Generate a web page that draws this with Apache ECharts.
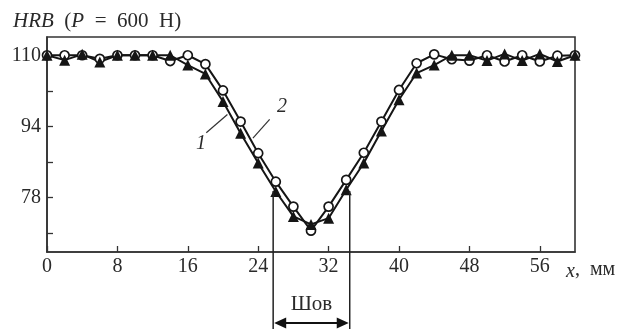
<!DOCTYPE html>
<html>
<head>
<meta charset="utf-8">
<script src="https://cdn.jsdelivr.net/npm/echarts@6/dist/echarts.min.js"></script>
<style>html,body{margin:0;padding:0;background:#fff}#c{width:622px;height:329px}</style>
</head>
<body>
<div id="c"></div>
<script>
// x positions, mm
const xs = [0,2,4,6,8,10,12,14,16,18,20,22,24,26,28,30,32,34,36,38,40,42,44,46,48,50,52,54,56,58,60];
// curve 1 (filled triangles)
const hrb1 = [110,108.9,110.2,108.5,110,110,110,110,107.8,105.8,99.6,92.5,85.8,79.4,73.8,72,73.4,79.8,85.8,93,100,106,107.8,110,110,108.8,110.3,108.8,110.3,108.6,110];
// curve 2 (open circles)
const hrb2 = [110,110,110,109.2,110,110,110,108.7,110,108,102.1,95.1,88,81.6,76,70.6,76,82,88.1,95.1,102.2,108.2,110.2,109.1,108.8,110,108.6,110,108.6,109.9,110];
const xTicks = [0,8,16,24,32,40,48,56];
const yTicks = [70,78,86,94,102,110];
const yLabels = [78,94,110];
// weld zone boundaries (mm) and the level where the markers start
const weld = [25.7, 34.4];
const weldTop = 79.5;
// curve labels with leader lines (data coordinates)
const curveLabels = [
  {text:'1', pos:[17.5,90.2], from:[18.1,92.6], to:[20.5,96.7]},
  {text:'2', pos:[26.7,98.4], from:[25.3,95.6], to:[23.4,91.4]}
];

const FONT = '"Liberation Serif", "DejaVu Serif", serif';
const TXT = '#2a2a2a';
const LINE = '#151515';

const chart = echarts.init(document.getElementById('c'), null, {renderer:'canvas'});
const option = {
  animation: false,
  backgroundColor: '#fff',
  title: {
    text: '{i|HRB}  ({i|P}  =  600  Н)',
    left: 8, top: 6,
    textStyle: {
      fontFamily: FONT, fontSize: 21, fontWeight: 'normal', color: TXT,
      rich: { i: {fontFamily: FONT, fontSize: 21, fontStyle: 'italic', color: TXT} }
    }
  },
  grid: { left: 47, right: 47, top: 37, bottom: 77, show: true, borderColor: '#333', borderWidth: 1.6 },
  xAxis: {
    type: 'value', min: 0, max: 60,
    name: '{i|x},  мм', nameLocation: 'end', nameGap: -9,
    nameTextStyle: {
      fontFamily: FONT, fontSize: 20, color: TXT, verticalAlign: 'top', padding: [5,0,0,0],
      rich: { i: {fontFamily: FONT, fontSize: 20, fontStyle: 'italic', color: TXT, verticalAlign:'top', padding:[5,0,0,0]} }
    },
    axisLine: { show: true, lineStyle: {color: '#333', width: 1.6} },
    axisTick: { show: true, inside: true, length: 6, lineStyle: {color: '#333', width: 1.3}, customValues: xTicks },
    axisLabel: { fontFamily: FONT, fontSize: 20, color: TXT, margin: 5, customValues: xTicks },
    splitLine: { show: false }
  },
  yAxis: {
    type: 'value', min: 65.8, max: 114.1,
    axisLine: { show: true, lineStyle: {color: '#333', width: 1.6} },
    axisTick: { show: true, inside: true, length: 6, lineStyle: {color: '#333', width: 1.3}, customValues: yTicks },
    axisLabel: { fontFamily: FONT, fontSize: 20, color: TXT, margin: 6, customValues: yLabels },
    splitLine: { show: false }
  },
  series: [
    {
      name: '2', type: 'line', data: xs.map((x,i)=>[x,hrb2[i]]),
      symbol: 'circle', symbolSize: 9, showAllSymbol: true,
      lineStyle: {color: LINE, width: 2},
      itemStyle: {color: '#fff', borderColor: LINE, borderWidth: 1.7}
    },
    {
      name: '1', type: 'line', data: xs.map((x,i)=>[x,hrb1[i]]),
      symbol: 'triangle', symbolSize: 11, showAllSymbol: true,
      lineStyle: {color: LINE, width: 2},
      itemStyle: {color: LINE, borderColor: LINE, borderWidth: 0}
    }
  ]
};
chart.setOption(option);

// annotations placed from data coordinates
const P = (x,y) => chart.convertToPixel({gridIndex:0}, [x,y]);
const g = [];
const bottomY = 329;
const arrowY = 323;
const wl = P(weld[0], weldTop), wr = P(weld[1], weldTop);
g.push({type:'line', shape:{x1:wl[0], y1:wl[1], x2:wl[0], y2:bottomY}, style:{stroke:'#222', lineWidth:1.5}, z:10});
g.push({type:'line', shape:{x1:wr[0], y1:wr[1], x2:wr[0], y2:bottomY}, style:{stroke:'#222', lineWidth:1.5}, z:10});
g.push({type:'line', shape:{x1:wl[0]+8, y1:arrowY, x2:wr[0]-8, y2:arrowY}, style:{stroke:'#111', lineWidth:2.2}, z:10});
g.push({type:'polygon', shape:{points:[[wl[0]+1,arrowY],[wl[0]+13,arrowY-5.5],[wl[0]+13,arrowY+5.5]]}, style:{fill:'#111'}, z:10});
g.push({type:'polygon', shape:{points:[[wr[0]-1,arrowY],[wr[0]-13,arrowY-5.5],[wr[0]-13,arrowY+5.5]]}, style:{fill:'#111'}, z:10});
g.push({type:'text', x:(wl[0]+wr[0])/2, y:304, style:{text:'Шов', font:'21px '+FONT, fill:TXT, textAlign:'center', textVerticalAlign:'middle'}, z:10});
curveLabels.forEach(c => {
  const a = P(c.from[0], c.from[1]), b = P(c.to[0], c.to[1]), t = P(c.pos[0], c.pos[1]);
  g.push({type:'line', shape:{x1:a[0], y1:a[1], x2:b[0], y2:b[1]}, style:{stroke:'#333', lineWidth:1.2}, z:10});
  g.push({type:'text', x:t[0], y:t[1], style:{text:c.text, font:'italic 20px '+FONT, fill:TXT, textAlign:'center', textVerticalAlign:'middle'}, z:10});
});
chart.setOption({graphic: g});
</script>
</body>
</html>
